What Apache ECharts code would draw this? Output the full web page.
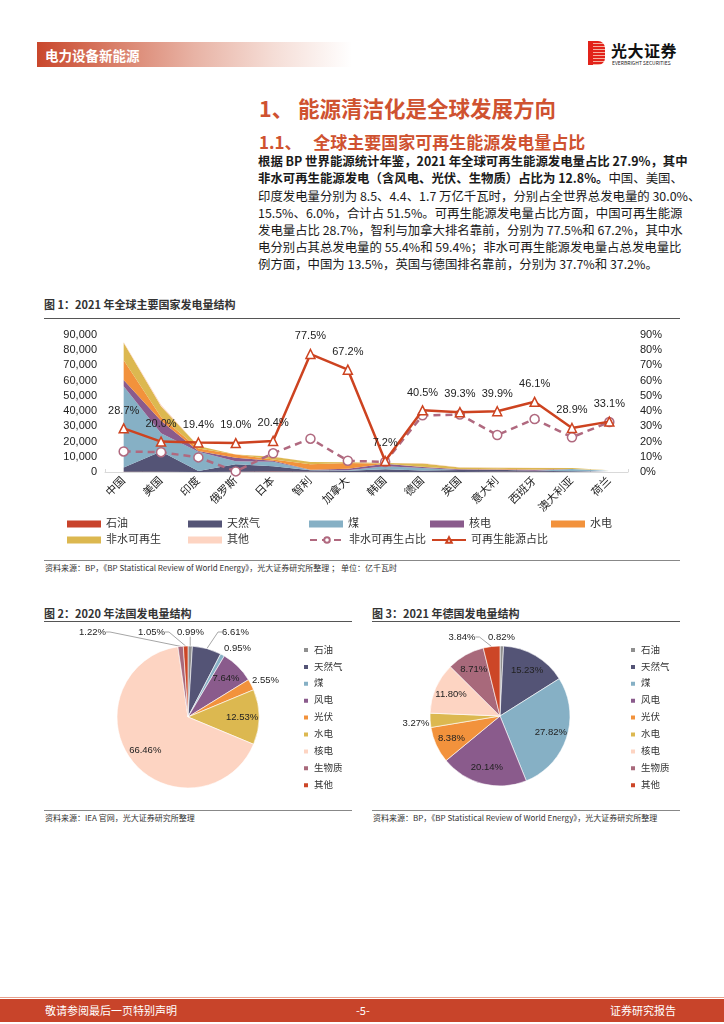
<!DOCTYPE html>
<html><head><meta charset="utf-8">
<script src="https://cdn.jsdelivr.net/npm/echarts@6/dist/echarts.min.js"></script>
<style>
html,body{margin:0;padding:0}
body{width:724px;height:1024px;position:relative;background:#fff;font-family:"Noto Sans CJK SC","Noto Sans",sans-serif;overflow:hidden;color:#222}
.a{position:absolute;white-space:nowrap}
.bl{position:absolute;left:258px;width:420px;font-size:12.4px;line-height:17px;text-align:justify;text-align-last:justify;white-space:nowrap;color:#1a1a1a}
.chart{position:absolute;left:0;top:0;width:724px;height:1024px}
</style></head><body>
<!-- header -->
<div class="a" style="left:37px;top:42px;width:315px;height:25px;background:linear-gradient(90deg,#c9472c 0%,#d9806a 25%,#e8b3a5 50%,#f5ddd6 75%,#ffffff 100%)"></div>
<div class="a" style="left:45px;top:45.5px;font-size:13.5px;font-weight:bold;color:#fff;line-height:18px">电力设备新能源</div>
<div class="a" style="left:588px;top:41px;width:17px;height:24px;border-radius:2px 7px 7px 2px;background:repeating-linear-gradient(180deg,#e2231a 0px,#e2231a 2px,#f6b0a0 2px,#f6b0a0 3px)"></div>
<div class="a" style="left:588px;top:41px;width:5px;height:24px;background:#e2231a"></div>
<div class="a" style="left:611px;top:40px;font-size:16px;font-weight:bold;color:#111;line-height:20px;letter-spacing:0.5px">光大证券</div>
<div class="a" style="left:612px;top:60px;font-size:5px;color:#222;line-height:6px">EVERBRIGHT SECURITIES</div>
<!-- titles -->
<div class="a" style="left:259px;top:94px;font-size:21.5px;font-weight:bold;color:#cf5230;line-height:28px">1、 能源清洁化是全球发展方向</div>
<div class="a" style="left:259px;top:130px;font-size:17px;font-weight:bold;color:#cf5230;line-height:23px">1.1、&nbsp;&nbsp;&nbsp;全球主要国家可再生能源发电量占比</div>
<div class="bl" style="top:153px;font-weight:bold">根据 BP 世界能源统计年鉴，2021 年全球可再生能源发电量占比 27.9%，其中</div>
<div class="bl" style="top:170px"><b>非水可再生能源发电（含风电、光伏、生物质）占比为 12.8%。</b>中国、美国、</div>
<div class="bl" style="top:187.5px">印度发电量分别为 8.5、4.4、1.7 万亿千瓦时，分别占全世界总发电量的 30.0%、</div>
<div class="bl" style="top:204.7px">15.5%、6.0%，合计占 51.5%。可再生能源发电量占比方面，中国可再生能源</div>
<div class="bl" style="top:222px">发电量占比 28.7%，智利与加拿大排名靠前，分别为 77.5%和 67.2%，其中水</div>
<div class="bl" style="top:239.2px">电分别占其总发电量的 55.4%和 59.4%；非水可再生能源发电量占总发电量比</div>
<div class="bl" style="top:256.4px;text-align-last:left">例方面，中国为 13.5%，英国与德国排名靠前，分别为 37.7%和 37.2%。</div>
<!-- figure 1 -->
<div class="a" style="left:44px;top:297px;font-size:11px;font-weight:bold;color:#333;line-height:15px">图 1：2021 年全球主要国家发电量结构</div>
<div class="a" style="left:44px;top:318px;width:636px;height:1px;background:#555"></div>
<div class="a" style="left:44px;top:560px;width:636px;height:1px;background:#888"></div>
<div class="a" style="left:45px;top:562px;font-size:8px;color:#333;line-height:11px">资料来源：BP，《BP Statistical Review of World Energy》，光大证券研究所整理 ； 单位：亿千瓦时</div>
<!-- figure 2/3 -->
<div class="a" style="left:44px;top:606px;font-size:11px;font-weight:bold;color:#333;line-height:15px">图 2：2020 年法国发电量结构</div>
<div class="a" style="left:44px;top:621px;width:308px;height:1px;background:#555"></div>
<div class="a" style="left:372px;top:606px;font-size:11px;font-weight:bold;color:#333;line-height:15px">图 3：2021 年德国发电量结构</div>
<div class="a" style="left:372px;top:621px;width:308px;height:1px;background:#555"></div>
<div class="a" style="left:44px;top:810px;width:308px;height:1px;background:#888"></div>
<div class="a" style="left:45px;top:812px;font-size:8px;color:#333;line-height:11px">资料来源：IEA 官网，光大证券研究所整理</div>
<div class="a" style="left:372px;top:810px;width:308px;height:1px;background:#888"></div>
<div class="a" style="left:373px;top:812px;font-size:8px;color:#333;line-height:11px">资料来源：BP，《BP Statistical Review of World Energy》，光大证券研究所整理</div>
<!-- footer -->
<div class="a" style="left:0;top:997px;width:724px;height:1px;background:#e8a08c"></div>
<div class="a" style="left:0;top:999px;width:724px;height:23px;background:#c8442a"></div>
<div class="a" style="left:45px;top:1003px;font-size:11px;color:#fff;line-height:15px">敬请参阅最后一页特别声明</div>
<div class="a" style="left:356px;top:1003px;font-size:11px;color:#fff;line-height:15px">-5-</div>
<div class="a" style="left:610px;top:1003px;font-size:11px;color:#fff;line-height:15px">证券研究报告</div>

<div id="c1" class="chart"></div>
<div id="c2" class="chart"></div>
<div id="c3" class="chart"></div>
<script>
// ---------- Figure 1 data (亿千瓦时 / %) ----------
const categories = ['中国','美国','印度','俄罗斯','日本','智利','加拿大','韩国','德国','英国','意大利','西班牙','澳大利亚','荷兰'];
const oil      = [110, 200, 50, 110, 320, 200, 40, 70, 40, 20, 110, 130, 50, 10];
const gas      = [2870, 13300, 620, 4970, 3480, 870, 780, 1680, 890, 1240, 1440, 680, 500, 540];
const coal     = [53390, 12000, 12710, 2000, 3000, 260, 380, 2080, 1650, 60, 150, 50, 1350, 160];
const nuclear  = [4070, 8100, 440, 2220, 610, 150, 920, 1580, 690, 460, 0, 540, 0, 40];
const hydro    = [13000, 2600, 1600, 2160, 780, 3630, 3820, 30, 190, 50, 450, 300, 150, 0];
const nonHydro = [11530, 7000, 1720, 50, 1780, 1450, 500, 400, 2170, 1160, 700, 960, 600, 400];
const other    = [370, 1000, 0, 60, 220, 0, 0, 110, 220, 90, 30, 80, 0, 70];
const nonHydroShare = [13.5, 13.0, 9.6, 0.4, 12.3, 21.9, 7.4, 6.6, 37.2, 37.7, 24.3, 34.8, 22.8, 32.8];
const renewShare    = [28.7, 20.0, 19.4, 19.0, 20.4, 77.5, 67.2, 7.2, 40.5, 39.3, 39.9, 46.1, 28.9, 33.1];
const leftMax = 90000, leftStep = 10000, rightMax = 90, rightStep = 10;

// ---------- Figure 2/3 data (%) ----------
const pieCats = ['石油','天然气','煤','风电','光伏','水电','核电','生物质','其他'];
const francePct  = [0.99, 6.61, 0.95, 7.64, 2.55, 12.53, 66.46, 1.22, 1.05];
const germanyPct = [0.82, 15.23, 27.82, 20.14, 8.38, 3.27, 11.80, 8.71, 3.84];
const franceInside  = [false,false,false,true,false,true,true,false,false];
const germanyInside = [false,true,true,true,true,false,true,true,false];

// label placement (styling): offset of outside label centre from pie centre, and whether a leader line is drawn
const franceOutside  = {0:[2.5,-85,true], 1:[47.5,-85,true], 2:[49.5,-69,false], 4:[77.5,-37,false], 7:[-95.5,-85,true], 8:[-36.5,-85,true]};
const germanyOutside = {0:[1.5,-79,false], 8:[-38,-79,true], 5:[-84,7,false]};

const FONT = '"Liberation Sans","Noto Sans CJK SC",sans-serif';
const areaNames  = ['石油','天然气','煤','核电','水电','非水可再生','其他'];
const areaData   = [oil, gas, coal, nuclear, hydro, nonHydro, other];
const areaColors = ['#c8432b','#545476','#86b0c5','#8a5b8c','#f2923c','#dcb850','#fdd4c2'];
const pieColors  = ['#8f8f8f','#545476','#86b0c5','#8a5b8c','#f2923c','#dcb850','#fdd4c2','#a8697b','#cc4627'];

const c1 = echarts.init(document.getElementById('c1'));
const areaSeries = areaNames.map((n,i)=>({
  name:n, type:'line', stack:'total', data:areaData[i], yAxisIndex:0,
  symbol:'none', lineStyle:{width:0}, areaStyle:{color:areaColors[i], opacity:1},
  itemStyle:{color:areaColors[i]}, z:2, silent:true
}));
c1.setOption({
  animation:false,
  grid:{left:105, right:96, top:335, height:137, containLabel:false},
  legend:{
    left:67, top:517, width:612, padding:0, itemWidth:34, itemHeight:7, itemGap:2, itemTextGap:5,
    formatter:'{w|{name}}',
    textStyle:{fontSize:11, color:'#333', fontFamily:FONT, lineHeight:14,
      rich:{w:{width:80, height:14, fontSize:11, lineHeight:14, color:'#333', fontFamily:FONT}}},
    data: areaNames.map(n=>({name:n, icon:'rect'})).concat([{name:'非水可再生占比'},{name:'可再生能源占比'}])
  },
  xAxis:{
    type:'category', data:categories, boundaryGap:true,
    axisLine:{lineStyle:{color:'#d9d9d9', width:1}},
    axisTick:{show:true, inside:true, length:3, lineStyle:{color:'#d9d9d9'}},
    axisLabel:{rotate:45, fontSize:11, color:'#222', margin:7, fontFamily:FONT, interval:0}
  },
  yAxis:[
    {type:'value', min:0, max:leftMax, interval:leftStep, splitLine:{show:false}, axisLine:{show:false}, axisTick:{show:false},
     axisLabel:{fontSize:11, color:'#222', fontFamily:FONT, margin:8, formatter:v=>v.toLocaleString('en-US')}},
    {type:'value', min:0, max:rightMax, interval:rightStep, splitLine:{show:false}, axisLine:{show:false}, axisTick:{show:false},
     axisLabel:{fontSize:11, color:'#222', fontFamily:FONT, margin:12, formatter:'{value}%'}}
  ],
  series: areaSeries.concat([
    {name:'非水可再生占比', type:'line', yAxisIndex:1, data:nonHydroShare, z:5,
     symbol:'circle', symbolSize:9, lineStyle:{color:'#b0697f', width:2.5, type:[7,5]},
     itemStyle:{color:'#fff', borderColor:'#b0697f', borderWidth:1.5}},
    {name:'可再生能源占比', type:'line', yAxisIndex:1, data:renewShare, z:6,
     symbol:'triangle', symbolSize:9, lineStyle:{color:'#cd4320', width:2.5},
     itemStyle:{color:'#fff', borderColor:'#cd4320', borderWidth:1.5},
     label:{show:true, position:'top', distance:7, fontSize:11, color:'#222', fontFamily:FONT, formatter:p=>p.value.toFixed(1)+'%'}}
  ])
});

function pieOption(values, inside, outside, cx, cy, r, legendLeft){
  const fmt = p=>p.value.toFixed(2)+'%';
  return {
    animation:false,
    legend:{orient:'vertical', left:legendLeft, top:644, padding:0, itemWidth:6, itemHeight:6, itemGap:4.9, itemTextGap:6,
      icon:'rect', textStyle:{fontSize:9.5, color:'#333', lineHeight:12, fontFamily:FONT}, data:pieCats},
    series:[{
      type:'pie', center:[cx,cy], radius:r, startAngle:90, clockwise:true, silent:true,
      itemStyle:{borderColor:'#fff', borderWidth:0.6},
      label:{show:false}, labelLine:{show:false},
      data: values.map((v,i)=>({name:pieCats[i], value:v, itemStyle:{color:pieColors[i]}}))
    },{
      // transparent overlay ring, only carries the labels (inside labels at ~0.72 r)
      type:'pie', center:[cx,cy], radius:[0.44*r, r], startAngle:90, clockwise:true, silent:true,
      avoidLabelOverlap:false,
      itemStyle:{color:'rgba(0,0,0,0)', borderWidth:0},
      emphasis:{disabled:true},
      label:{fontSize:9.5, color:'#222', fontFamily:FONT, formatter:fmt},
      labelLine:{length:8, length2:8, lineStyle:{color:'#a6a6a6', width:1}},
      labelLayout:function(p){
        const o = outside[p.dataIndex];
        if(!o) return {};
        const x = cx + o[0], y = cy + o[1];
        const res = {x:x, y:y, align:'center', verticalAlign:'middle'};
        if(o[2] && p.labelLinePoints){
          const s = p.labelLinePoints[0];
          const hw = p.labelRect.width/2, hh = p.labelRect.height/2;
          let pts;
          if(s[0] > x + hw){ pts = [s, [x+hw+4, y], [x+hw, y]]; }
          else if(s[0] < x - hw){ pts = [s, [x-hw-4, y], [x-hw, y]]; }
          else { pts = [s, [s[0], y+hh], [s[0], y+hh]]; }
          res.labelLinePoints = pts;
        }
        return res;
      },
      data: values.map((v,i)=>({name:pieCats[i], value:v,
        label:{position: inside[i] ? 'inside' : 'outside'},
        labelLine:{show: !!(outside[i] && outside[i][2])}}))
    }]
  };
}
const c2 = echarts.init(document.getElementById('c2'));
c2.setOption(pieOption(francePct, franceInside, franceOutside, 188, 717, 71, 302));
const c3 = echarts.init(document.getElementById('c3'));
c3.setOption(pieOption(germanyPct, germanyInside, germanyOutside, 500, 716, 70, 629));
</script>
</body></html>
